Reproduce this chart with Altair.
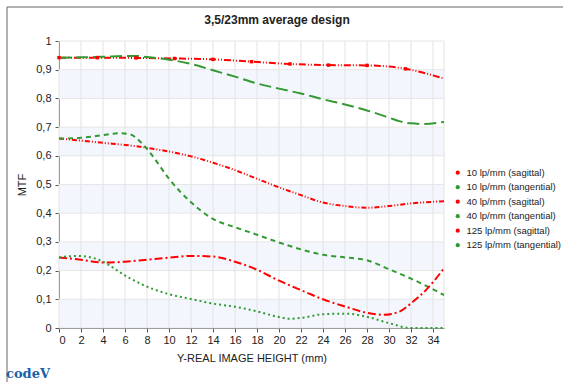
import altair as alt
import pandas as pd

series_names = ["10 lp/mm (sagittal)", "10 lp/mm (tangential)", "40 lp/mm (sagittal)",
                "40 lp/mm (tangential)", "125 lp/mm (sagittal)", "125 lp/mm (tangential)"]
series_colors = ["#ff0000", "#339933", "#ff0000", "#339933", "#ff0000", "#339933"]
series_dash = [[7, 2, 1, 2, 1, 2], [12, 5], [5, 2, 1, 2, 1, 2], [5, 4], [8, 3, 2, 3], [2, 3]]

x_10s = [0, 3.5, 7, 10.5, 14, 17.5, 21, 24.5, 28, 31.5, 35]
y_10s = [0.942, 0.942, 0.941, 0.939, 0.936, 0.928, 0.92, 0.916, 0.915, 0.903, 0.869]

x_10t = [0, 2, 4, 6, 7, 8, 10, 12, 14, 16, 18, 20, 22, 24, 26, 28, 30, 31, 32, 33, 35]
y_10t = [0.942, 0.943, 0.945, 0.948, 0.948, 0.944, 0.935, 0.92, 0.898, 0.876, 0.852, 0.834,
         0.817, 0.797, 0.779, 0.758, 0.733, 0.72, 0.713, 0.711, 0.718]

x_40s = [0, 2, 4, 6, 8, 10, 12, 14, 16, 18, 20, 22, 24, 26, 28, 30, 32, 35]
y_40s = [0.66, 0.653, 0.645, 0.638, 0.628, 0.615, 0.598, 0.576, 0.55, 0.52, 0.49, 0.463,
         0.437, 0.425, 0.419, 0.425, 0.434, 0.442]

x_40t = [0, 2, 4, 5.5, 6.5, 7.5, 8.5, 10, 12, 14, 16, 18, 20, 22, 24, 26, 28, 30, 32, 35]
y_40t = [0.66, 0.663, 0.672, 0.679, 0.674, 0.645, 0.6, 0.52, 0.438, 0.38, 0.351, 0.325,
         0.298, 0.274, 0.255, 0.246, 0.236, 0.205, 0.172, 0.115]

x_125s = [0, 2, 4, 6, 8, 10, 12, 14, 16, 18, 20, 22, 24, 26, 28, 29.5, 31, 32, 33.5, 35]
y_125s = [0.246, 0.238, 0.228, 0.231, 0.238, 0.245, 0.251, 0.249, 0.231, 0.203, 0.165, 0.132,
          0.1, 0.075, 0.053, 0.046, 0.058, 0.086, 0.138, 0.208]

x_125t = [0, 1.6, 3, 4, 6, 8, 10, 12, 14, 16, 18, 20, 21, 22, 24, 26, 28, 30, 32, 35]
y_125t = [0.246, 0.251, 0.245, 0.231, 0.183, 0.144, 0.118, 0.101, 0.085, 0.074, 0.058, 0.038,
          0.032, 0.035, 0.048, 0.05, 0.039, 0.017, 0.0, 0.0]

x_ticks = list(range(0, 36, 2))
y_ticks = [i / 10 for i in range(11)]
band_lo = [0.0, 0.2, 0.4, 0.6, 0.8]
band_hi = [0.1, 0.3, 0.5, 0.7, 0.9]
title_text = "3,5/23mm average design"
logo_text = "codeV"

xs = [x_10s, x_10t, x_40s, x_40t, x_125s, x_125t]
ys = [y_10s, y_10t, y_40s, y_40t, y_125s, y_125t]
rows = []
for name, xx, yy in zip(series_names, xs, ys):
    for a, b in zip(xx, yy):
        rows.append({"series": name, "x": a, "y": b})
df = pd.DataFrame(rows)
marker_df = pd.DataFrame({"x": x_10s[:-1], "y": y_10s[:-1]})
legend_df = pd.DataFrame({"series": series_names})
bands = pd.DataFrame({"lo": band_lo, "hi": band_hi})
xgrid = pd.DataFrame({"x": x_ticks + [35]})
ygrid = pd.DataFrame({"y": y_ticks})
one = pd.DataFrame({"t": [title_text], "l": [logo_text]})

FONT = "Liberation Sans"

xscale = alt.Scale(domain=[0, 35], nice=False, zero=False)
yscale = alt.Scale(domain=[0, 1], nice=False)
cscale = alt.Scale(domain=series_names, range=series_colors)

X_AX = alt.Axis(values=x_ticks, title="Y-REAL IMAGE HEIGHT (mm)", labelOverlap=False,
                grid=False, domainColor="#555", tickColor="#555",
                tickSize=4, labelFontSize=11, labelColor="#222", titleFontSize=11,
                titleFontWeight="normal", titleColor="#222", labelPadding=2,
                titlePadding=7, labelFont=FONT, titleFont=FONT)
Y_AX = alt.Axis(values=y_ticks, title="MTF", labelOverlap=False,
                labelExpr="replace(format(datum.value, '.1~f'), '.', ',')",
                grid=False, domainColor="#555", tickColor="#555",
                tickSize=4, labelFontSize=11, labelColor="#222", titleFontSize=11,
                titleFontWeight="normal", titleColor="#222", labelPadding=4,
                titlePadding=8, labelFont=FONT, titleFont=FONT)
LEGEND = alt.Legend(title=None, orient="none", legendX=394, legendY=127,
                    symbolType="circle", symbolSize=18, labelFontSize=9.5,
                    labelFont=FONT, labelColor="#222", rowPadding=3.5,
                    clipHeight=9.3, symbolStrokeWidth=0, labelOffset=4)

band_layer = alt.Chart(bands).mark_rect(color="#f3f7fd").encode(
    y=alt.Y("lo:Q", scale=yscale, axis=Y_AX),
    y2="hi:Q",
)
vgrid = alt.Chart(xgrid).mark_rule(color="#e2e2e2", strokeWidth=1).encode(
    x=alt.X("x:Q", scale=xscale, axis=X_AX))
hgrid = alt.Chart(ygrid).mark_rule(color="#e6e6e6", strokeWidth=1).encode(
    y=alt.Y("y:Q", scale=yscale, axis=Y_AX))

# legend-only layer: its marks sit outside the clipped plot area
legend_layer = alt.Chart(legend_df).mark_circle(size=18, opacity=1, clip=True).encode(
    x=alt.value(-200), y=alt.value(-200),
    color=alt.Color("series:N", scale=cscale, sort=series_names, legend=LEGEND),
)

lines = alt.Chart(df).mark_line(strokeWidth=2, interpolate="monotone").encode(
    x=alt.X("x:Q", scale=xscale, axis=X_AX),
    y=alt.Y("y:Q", scale=yscale, axis=Y_AX),
    color=alt.Color("series:N", scale=cscale, sort=series_names),
    strokeDash=alt.StrokeDash("series:N", scale=alt.Scale(domain=series_names, range=series_dash),
                              legend=None),
    detail="series:N",
)

markers = alt.Chart(marker_df).mark_square(size=12, color="#ff0000", opacity=1, filled=True).encode(
    x=alt.X("x:Q", scale=xscale, axis=X_AX),
    y=alt.Y("y:Q", scale=yscale, axis=Y_AX),
)

frame_top = alt.Chart(one).mark_rule(color="#666", strokeWidth=1).encode(
    x=alt.value(-52), x2=alt.value(504), y=alt.value(-34))
frame_left = alt.Chart(one).mark_rule(color="#666", strokeWidth=1).encode(
    x=alt.value(-52), y=alt.value(-34), y2=alt.value(345))
title = alt.Chart(one).mark_text(font=FONT, fontSize=12, fontWeight="bold", color="#222",
                                 align="center", baseline="middle").encode(
    text="t:N", x=alt.value(218), y=alt.value(-21))
logo = alt.Chart(one).mark_text(font="DejaVu Serif", fontSize=13,
                                fontWeight="bold", color="#1a5fa8", align="left",
                                baseline="middle").encode(
    text="l:N", x=alt.value(-53), y=alt.value(333))

chart = alt.layer(band_layer, vgrid, hgrid, legend_layer, lines, markers, frame_top,
                  frame_left, title, logo).properties(
    width=385, height=287,
    padding={"left": 59, "top": 41, "right": 119, "bottom": 54},
    autosize=alt.AutoSizeParams(type="none"),
).configure_view(stroke=None)

chart.save("out.html", embed_options={"renderer": "svg", "actions": False})
